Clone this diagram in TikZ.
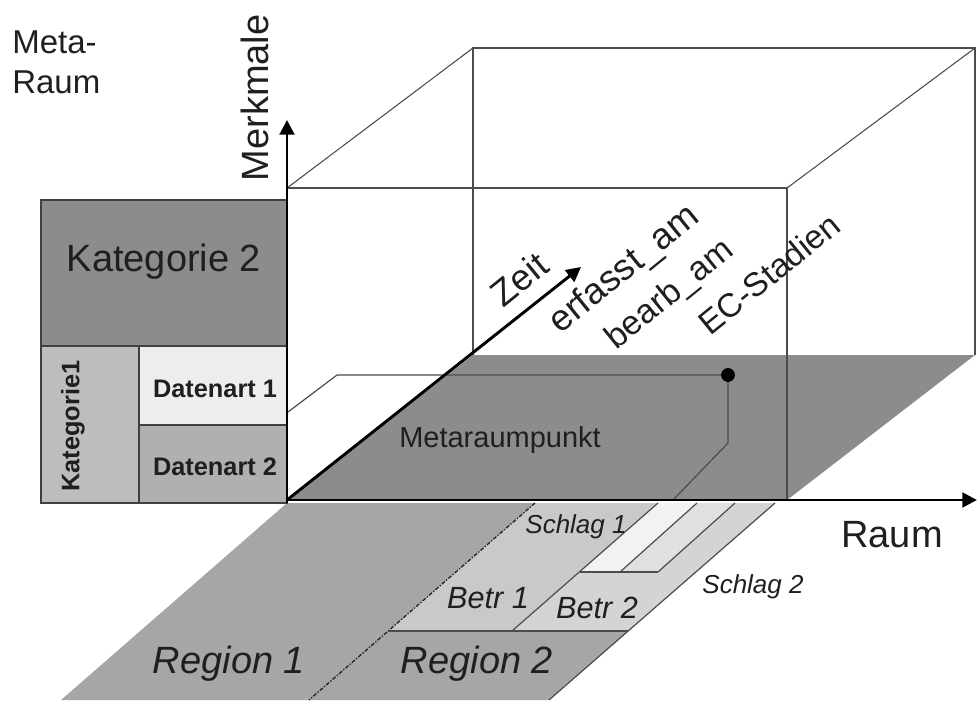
\documentclass[tikz,border=0pt]{standalone}
\usepackage{fontspec}
\setmainfont{Liberation Sans}
\usetikzlibrary{arrows.meta}
\definecolor{kattwo}{gray}{0.55}
\definecolor{katone}{gray}{0.74}
\definecolor{datone}{gray}{0.93}
\definecolor{dattwo}{gray}{0.69}
\definecolor{floorgrey}{gray}{0.55}
\definecolor{regiongrey}{gray}{0.65}
\definecolor{betrone}{gray}{0.79}
\definecolor{betrtwo}{gray}{0.83}
\definecolor{stripw}{gray}{0.95}
\definecolor{stripl}{gray}{0.88}
\definecolor{ink}{gray}{0.12}
\begin{document}
\begin{tikzpicture}[x=0.75pt,y=-0.75pt,
  cubeline/.style={draw=black!70,line width=0.8pt},
  thinline/.style={draw=black!70,line width=0.9pt},
  boxline/.style={draw=black!75,line width=0.9pt},
  divline/.style={draw=black!85,line width=1pt,dash pattern=on 3pt off 1.2pt on 1pt off 1.2pt},
  axis/.style={draw=black,line width=2.2pt,-{Triangle[length=11pt,width=11pt]}},
  lbl/.style={inner sep=0pt,text=ink},
  big/.style={lbl,font=\fontsize{28.5pt}{34pt}\selectfont},
  mid/.style={lbl,font=\fontsize{24.75pt}{30pt}\selectfont},
  boldlbl/.style={lbl,font=\fontsize{19pt}{23pt}\selectfont\bfseries},
  italbig/.style={lbl,font=\fontsize{28.5pt}{34pt}\selectfont\itshape},
  italmid/.style={lbl,font=\fontsize{23pt}{28pt}\selectfont\itshape},
  italsmall/.style={lbl,font=\fontsize{19.5pt}{23pt}\selectfont\itshape},
  slanted/.style={lbl,rotate=39}
]
\useasboundingbox (0,0) rectangle (978,700);

% ground plane with regions, farms and fields
\fill[regiongrey] (287,503) -- (775,503) -- (549,700) -- (61,700) -- cycle;
\fill[betrone] (535,503) -- (658,503) -- (512,631) -- (388,631) -- cycle;
\fill[betrtwo] (658,503) -- (775,503) -- (628,631) -- (512,631) -- cycle;
\fill[stripw] (658,503) -- (697,503) -- (620,572) -- (580,572) -- cycle;
\fill[stripl] (697,503) -- (735,503) -- (658,572) -- (620,572) -- cycle;
\draw[thinline] (658,503) -- (512,631);
\draw[thinline] (697,503) -- (620,572);
\draw[thinline] (735,503) -- (658,572);
\draw[thinline] (580,572) -- (658,572);
\draw[thinline] (388,631) -- (628,631);
\draw[thinline] (775,503) -- (549,700);
\draw[divline] (535,503) -- (309,700);

% floor of the meta space
\fill[floorgrey] (287,500) -- (473,355) -- (975,355) -- (787,500) -- cycle;

% cube edges
\draw[cubeline] (473,355) -- (473,48) -- (975,48) -- (975,355);
\draw[cubeline] (287,188) -- (787,188) -- (787,500);
\draw[cubeline] (287,188) -- (473,48);
\draw[cubeline] (787,188) -- (975,48);

% category panel
\draw[boxline,fill=kattwo] (41,200) rectangle (287,346);
\draw[boxline,fill=katone] (41,346) rectangle (139,503);
\draw[boxline,fill=datone] (139,346) rectangle (287,425);
\draw[boxline,fill=dattwo] (139,425) rectangle (287,503);

% meta space point with its projection lines
\coordinate (pt) at (728,375);
\draw[thinline] (288,412) -- (337,375) -- (pt) -- (728,443) -- (673,500);
\fill[black] (pt) circle[radius=5.2pt];

% axes
\draw[axis] (287,503) -- (287,120);
\draw[axis] (286,500) -- (977,500);
\draw[axis] (287,500) -- (581,267);

% labels
\node[mid,anchor=base west] (meta) at (12,53) {Meta-};
\node[mid,anchor=base west] (raumtop) at (12,93) {Raum};
\node[big,rotate=90] (merkmale) at (255,98) {Merkmale};
\node[big,anchor=base] (kat2) at (164,271) {Kategorie 2};
\node[boldlbl,rotate=90] (kat1) at (73,426) {Kategorie1};
\node[boldlbl,anchor=base] (dat1) at (215,397) {Datenart 1};
\node[boldlbl,anchor=base] (dat2) at (215,475) {Datenart 2};
\node[slanted,font=\fontsize{27.5pt}{32pt}\selectfont] (zeit) at (519,279) {Zeit};
\node[slanted,font=\fontsize{27.5pt}{32pt}\selectfont] (erfasst) at (625,270) {erfasst\_am};
\node[slanted,font=\fontsize{25.5pt}{30pt}\selectfont] (bearb) at (670,295) {bearb\_am};
\node[slanted,font=\fontsize{25pt}{30pt}\selectfont] (ec) at (769,274) {EC-Stadien};
\node[lbl,font=\fontsize{21.75pt}{26pt}\selectfont,anchor=base] (mrp) at (500,447) {Metaraumpunkt};
\node[big,anchor=base] (raum) at (892,547) {Raum};
\node[italsmall,anchor=base] (schlag1) at (576,533) {Schlag 1};
\node[italsmall,anchor=base] (schlag2) at (753,593) {Schlag 2};
\node[italmid,anchor=base] (betr1) at (488,608) {Betr 1};
\node[italmid,anchor=base] (betr2) at (597,618) {Betr 2};
\node[italbig,anchor=base] (reg1) at (229,673) {Region 1};
\node[italbig,anchor=base] (reg2) at (477,673) {Region 2};
\end{tikzpicture}
\end{document}
